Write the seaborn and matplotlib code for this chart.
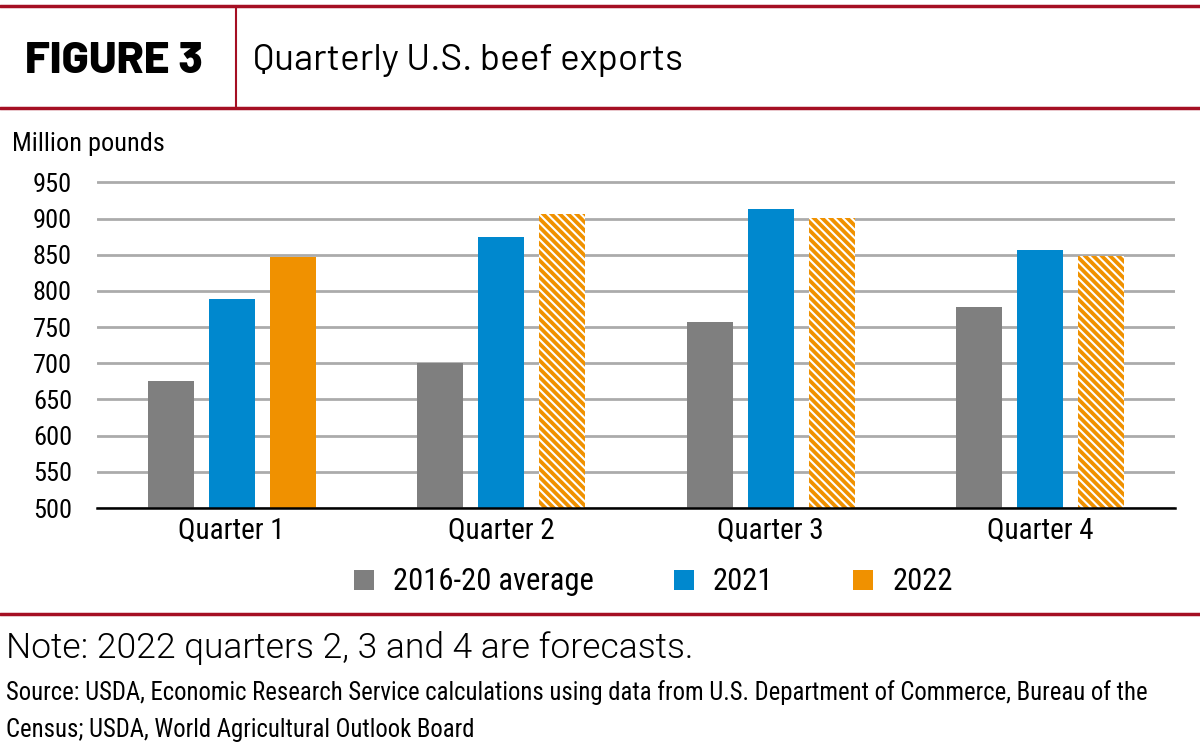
import matplotlib
matplotlib.use("Agg")
import matplotlib.pyplot as plt
from matplotlib.lines import Line2D
import seaborn as sns
import pandas as pd

quarters = ["Quarter 1", "Quarter 2", "Quarter 3", "Quarter 4"]
series_names = ["2016-20 average", "2021", "2022"]
avg_2016_20 = [676, 700, 757, 778]
y2021 = [789, 875, 913, 856]
y2022 = [847, 907, 901, 848]
forecast_2022 = [False, True, True, True]
yticks = [500, 550, 600, 650, 700, 750, 800, 850, 900, 950]

colors = {"2016-20 average": "#7F7F7F", "2021": "#0088CE", "2022": "#F09100"}
RED = "#A50F23"
BODY = ["Roboto Condensed", "DejaVu Sans"]
HEAD = ["Barlow", "DejaVu Sans"]
NOTE = ["Roboto", "DejaVu Sans"]

rows = []
for name, vals in zip(series_names, [avg_2016_20, y2021, y2022]):
    for q, v in zip(quarters, vals):
        rows.append({"quarter": q, "series": name, "value": v})
df = pd.DataFrame(rows)

sns.set_theme(style="white")
plt.rcParams["font.family"] = BODY
plt.rcParams["text.color"] = "black"
plt.rcParams["xtick.color"] = "black"
plt.rcParams["ytick.color"] = "black"
plt.rcParams["hatch.linewidth"] = 1.5

W, H = 1200, 746
fig = plt.figure(figsize=(12, 7.46), dpi=100)
ax = fig.add_axes([97 / W, 1 - 508 / H, (1175 - 97) / W, (508 - 181) / H])

sns.barplot(data=df, x="quarter", y="value", hue="series", order=quarters,
            hue_order=series_names, palette=colors, width=0.68, gap=0.245,
            errorbar=None, ax=ax, legend=False, zorder=3, linewidth=0,
            saturation=1)

# hatch forecast bars
for bar, fc in zip(ax.containers[2], forecast_2022):
    if fc:
        bar.set_hatch("\\\\\\\\")
        bar.set_edgecolor("white")
        bar.set_linewidth(0)

ax.set_ylim(500, 952)
ax.set_yticks(yticks)
ax.set_yticklabels([str(t) for t in yticks], fontsize=19)
ax.set_xlabel("")
ax.set_ylabel("")
ax.tick_params(axis="x", labelsize=21, length=0, pad=6, labelcolor="black")
ax.tick_params(axis="y", length=0, pad=18, labelcolor="black")
ax.grid(axis="y", color="#ABABAB", linewidth=2, zorder=0)
ax.set_axisbelow(True)
for s in ["top", "right", "left"]:
    ax.spines[s].set_visible(False)
ax.spines["bottom"].set_color("black")
ax.spines["bottom"].set_linewidth(1.8)
ax.spines["bottom"].set_zorder(4)

# axis title
fig.text(12 / W, 1 - 151 / H, "Million pounds", fontsize=18.9, va="baseline", ha="left")

# legend (solid square swatches)
handles = [Line2D([], [], linestyle="none", marker="s", markersize=14.5,
                  markerfacecolor=colors[n], markeredgewidth=0, label=n)
           for n in series_names]
fig.legend(handles=handles, loc="center", bbox_to_anchor=(653 / W, 1 - 582 / H),
           ncol=3, frameon=False, fontsize=22, handlelength=0.7,
           handletextpad=0.6, columnspacing=2.6)

# header
fig.add_artist(Line2D([0, 1], [1 - 6 / H, 1 - 6 / H], color=RED, linewidth=2.5))
fig.add_artist(Line2D([0, 1], [1 - 108 / H, 1 - 108 / H], color=RED, linewidth=2.5))
fig.add_artist(Line2D([236 / W, 236 / W], [1 - 108 / H, 1 - 6 / H], color=RED, linewidth=1.5))
fig.text(25 / W, 1 - 73 / H, "FIGURE 3", fontsize=32, fontweight=800,
         va="baseline", ha="left", family=HEAD)
fig.text(253 / W, 1 - 70 / H, "Quarterly U.S. beef exports", fontsize=26.7,
         va="baseline", ha="left", family=HEAD)

# footer
fig.add_artist(Line2D([0, 1], [1 - 614 / H, 1 - 614 / H], color=RED, linewidth=2.5))
fig.text(6 / W, 1 - 658 / H, "Note: 2022 quarters 2, 3 and 4 are forecasts.",
         fontsize=25.5, fontweight=300, va="baseline", ha="left", family=NOTE)
fig.text(6 / W, 1 - 700 / H,
         "Source: USDA, Economic Research Service calculations using data from U.S. Department of Commerce, Bureau of the",
         fontsize=17.85, va="baseline", ha="left")
fig.text(6 / W, 1 - 737 / H, "Census; USDA, World Agricultural Outlook Board",
         fontsize=17.85, va="baseline", ha="left")

fig.savefig("out.png", dpi=100)
